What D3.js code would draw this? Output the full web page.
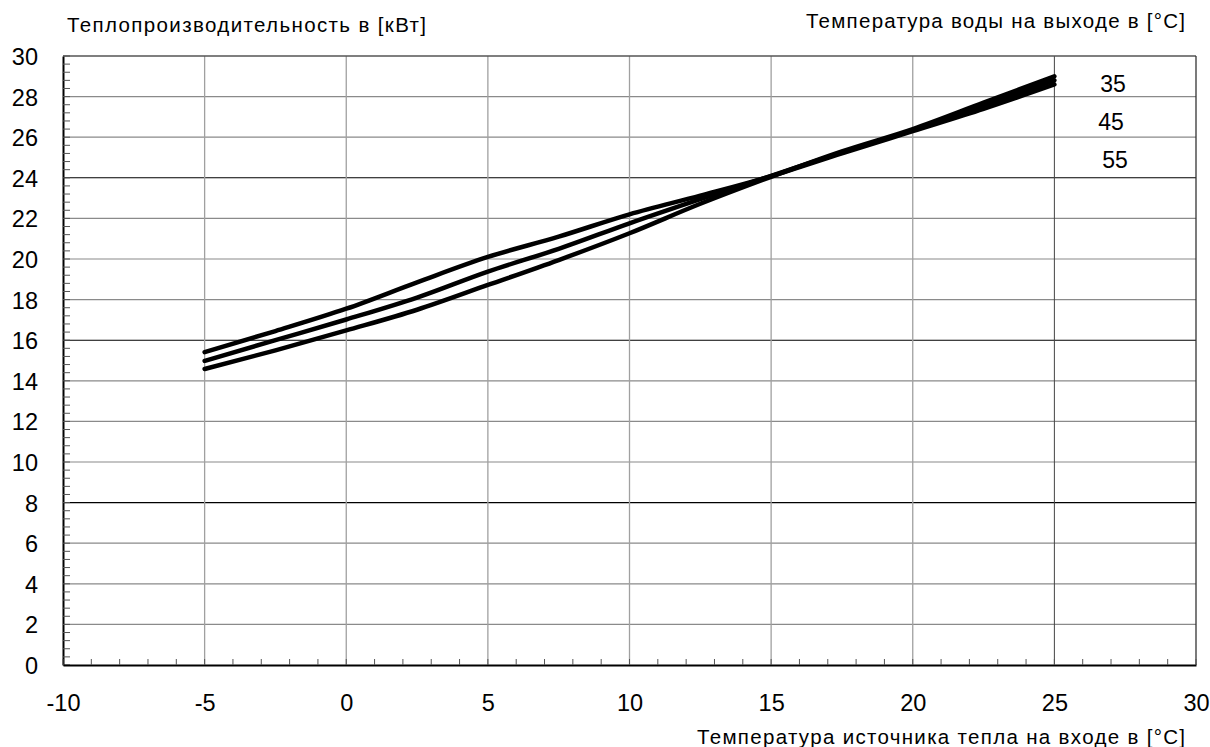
<!DOCTYPE html>
<html><head><meta charset="utf-8">
<script src="https://cdn.jsdelivr.net/npm/d3@7"></script>
<style>body{margin:0;background:#fff}svg{display:block}text{font-family:"Liberation Sans",Arial,sans-serif;fill:#000}</style>
</head><body>
<svg id="c" width="1210" height="747"></svg>
<script>
const xTicks = [-10,-5,0,5,10,15,20,25,30];
const yTicks = [0,2,4,6,8,10,12,14,16,18,20,22,24,26,28,30];
const sourceTemp = [-5,-2.5,0,2.5,5,7.5,10,12.5,15,17.5,20,22.5,25];
const series35 = [15.41,16.45,17.55,18.85,20.1,21.1,22.2,23.12,24.08,25.2,26.3,27.4,28.6];
const series45 = [14.98,16.0,17.02,18.1,19.38,20.5,21.76,22.95,24.1,25.25,26.35,27.55,28.8];
const series55 = [14.58,15.5,16.48,17.5,18.72,19.95,21.27,22.72,24.05,25.3,26.4,27.7,29.0];
const labels = ["35","45","55"];
const yTitle = "Теплопроизводительность в [кВт]";
const legendTitle = "Температура воды на выходе в [°C]";
const xTitle = "Температура источника тепла на входе в [°C]";

const svg = d3.select("#c");
const L=63,R=1196,T=56,B=665;
const x = d3.scaleLinear().domain([-10,30]).range([L,R]);
const y = d3.scaleLinear().domain([0,30]).range([B,T]);
const fmt = d => String(d);

// grid
const g = svg.append("g");
g.selectAll("line.h").data(yTicks.filter(v=>v>0&&v<30)).join("line")
 .attr("x1",L).attr("x2",R).attr("y1",d=>y(d)).attr("y2",d=>y(d))
 .attr("stroke",d=>d%8===0?"#000":"#8a8a8a").attr("stroke-width",d=>d%8===0?1.1:1.2);
g.selectAll("line.v").data(xTicks.filter(v=>v>-10&&v<30)).join("line")
 .attr("x1",d=>x(d)).attr("x2",d=>x(d)).attr("y1",T).attr("y2",B)
 .attr("stroke",d=>d===25?"#444":"#a0a0a0").attr("stroke-width",d=>d===25?1:1.3);
svg.append("line").attr("x1",L).attr("x2",R).attr("y1",T).attr("y2",T).attr("stroke","#555").attr("stroke-width",1.3);
svg.append("line").attr("x1",R).attr("x2",R).attr("y1",T).attr("y2",B).attr("stroke","#333").attr("stroke-width",1.3);

// axes
const yAxis = d3.axisLeft(y).tickValues(yTicks).tickSize(0).tickPadding(25).tickFormat(fmt);
const ya = svg.append("g").attr("transform",`translate(${L},0)`).call(yAxis);
ya.select(".domain").attr("stroke","#000").attr("stroke-width",2);
ya.selectAll("text").style("font-size","23.5px").attr("dy","0.36em");
const yMinor = d3.range(0,30.01,0.4).map(v=>+v.toFixed(2));
svg.append("g").selectAll("line").data(yMinor).join("line")
 .attr("x1",L).attr("x2",L+7).attr("y1",d=>y(d)).attr("y2",d=>y(d)).attr("stroke","#555").attr("stroke-width",1);

const xAxis = d3.axisBottom(x).tickValues(xTicks).tickSize(0).tickPadding(29).tickFormat(fmt);
const xa = svg.append("g").attr("transform",`translate(0,${B})`).call(xAxis);
xa.select(".domain").attr("stroke","#000").attr("stroke-width",2);
xa.selectAll("text").style("font-size","23.5px").attr("dy","0.71em");
const xMinor = d3.range(-10,30.01,1);
svg.append("g").selectAll("line").data(xMinor).join("line")
 .attr("x1",d=>x(d)).attr("x2",d=>x(d)).attr("y1",B).attr("y2",B-6).attr("stroke","#555").attr("stroke-width",1);
ya.select(".domain").raise();

// curves
const line = d3.line().x((d,i)=>x(sourceTemp[i])).y(d=>y(d)).curve(d3.curveMonotoneX);
[series35,series45,series55].forEach(s=>{
  svg.append("path").attr("d",line(s)).attr("fill","none").attr("stroke","#000")
   .attr("stroke-width",4.5).attr("stroke-linecap","round").attr("stroke-linejoin","round");
});

// labels
const ly=[83.5,121.5,160];
const lx=[1113,1111,1115];
labels.forEach((t,i)=>svg.append("text").attr("x",lx[i]).attr("y",ly[i]).attr("dy","0.36em")
  .attr("text-anchor","middle").style("font-size","23px").text(t));

svg.append("text").attr("x",67).attr("y",32).style("font-size","20.5px")
  .attr("textLength",359).attr("lengthAdjust","spacing").text(yTitle);
svg.append("text").attr("x",806).attr("y",28).style("font-size","20.5px")
  .attr("textLength",379).attr("lengthAdjust","spacing").text(legendTitle);
svg.append("text").attr("x",697).attr("y",744).style("font-size","20.5px")
  .attr("textLength",488).attr("lengthAdjust","spacing").text(xTitle);
</script>
</body></html>
